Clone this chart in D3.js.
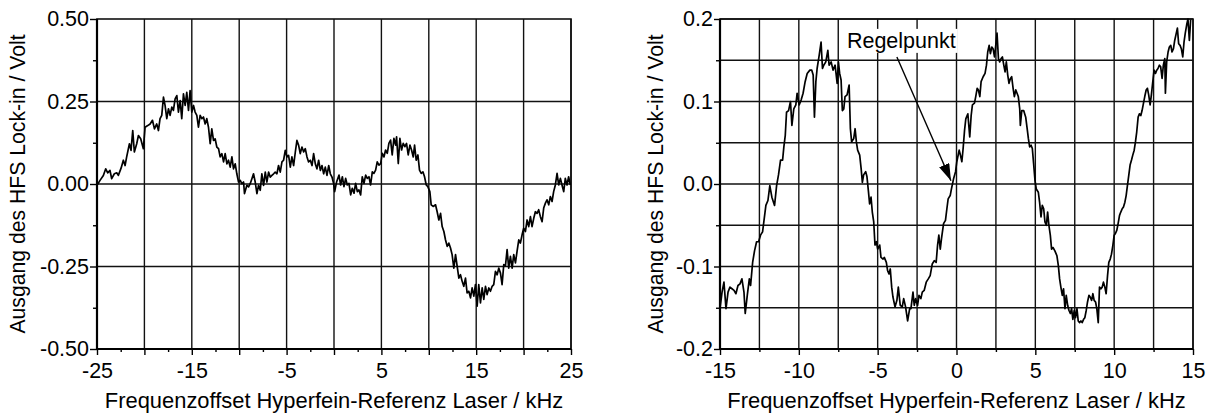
<!DOCTYPE html>
<html><head><meta charset="utf-8">
<script src="https://cdn.jsdelivr.net/npm/d3@7"></script>
<style>
body{margin:0;background:#fff}
svg text{font-family:"Liberation Sans",Arial,Helvetica,sans-serif;fill:#000}
</style>
</head><body>
<svg id="chart" width="1210" height="413"></svg>
<script>
// ---------------- DATA ----------------
const leftFreq = [-25.00,-24.68,-24.33,-24.08,-23.87,-23.63,-23.45,-23.17,-22.92,-22.75,
-22.46,-22.22,-22.04,-21.87,-21.58,-21.41,-21.23,-21.06,-20.81,-20.63,
-20.39,-20.11,-19.93,-19.65,-19.40,-19.15,-18.94,-18.70,-18.52,-18.35,
-18.17,-17.99,-17.82,-17.64,-17.46,-17.29,-17.11,-16.94,-16.76,-16.58,
-16.41,-16.23,-16.06,-15.88,-15.70,-15.53,-15.35,-15.18,-15.00,-14.82,
-14.65,-14.47,-14.30,-14.12,-13.94,-13.77,-13.59,-13.42,-13.24,-13.06,
-12.89,-12.71,-12.54,-12.36,-12.18,-12.01,-11.83,-11.65,-11.48,-11.30,
-11.13,-10.95,-10.77,-10.60,-10.42,-10.25,-10.07,-9.89,-9.72,-9.54,
-9.44,-9.19,-9.01,-8.84,-8.66,-8.49,-8.31,-8.13,-7.96,-7.78,
-7.61,-7.43,-7.25,-7.08,-6.90,-6.73,-6.55,-6.37,-6.20,-6.02,
-5.85,-5.67,-5.49,-5.32,-5.14,-4.96,-4.79,-4.61,-4.44,-4.26,
-4.08,-3.91,-3.73,-3.56,-3.38,-3.20,-3.03,-2.85,-2.68,-2.50,
-2.32,-2.15,-1.97,-1.80,-1.62,-1.44,-1.27,-1.09,-0.92,-0.74,
-0.56,-0.39,-0.21,-0.04,
0.07,0.28,0.53,0.70,0.88,1.05,1.23,1.40,1.58,1.76,
1.93,2.11,2.28,2.46,2.63,2.81,2.98,3.16,3.34,3.51,
3.69,3.86,4.04,4.21,4.39,4.56,4.74,4.92,5.09,5.27,
5.44,5.62,5.79,5.97,6.14,6.32,6.50,6.60,6.78,6.95,
7.13,7.30,7.48,7.65,7.83,8.01,8.18,8.36,8.50,8.67,
8.85,9.02,9.20,9.38,9.55,9.73,9.90,10.11,10.25,10.46,
10.71,10.88,11.06,11.24,11.41,11.59,11.76,11.94,12.11,12.29,
12.46,12.64,12.82,12.99,13.17,13.34,13.52,13.69,13.87,14.04,
14.22,14.40,14.57,14.75,14.92,15.10,15.27,15.45,15.63,15.80,
15.98,16.15,16.33,16.50,16.68,16.85,17.03,17.21,17.38,17.56,
17.73,17.91,18.08,18.26,18.43,18.61,18.79,18.96,19.14,19.31,
19.49,19.66,19.84,20.01,20.19,20.37,20.54,20.72,20.89,21.07,
21.24,21.42,21.59,21.77,21.95,22.12,22.30,22.47,22.65,22.82,
23.00,23.17,23.35,23.53,23.70,23.88,24.05,24.23,24.40,24.58,
24.75,24.93];
const leftVolt = [-0.004,0.011,0.026,0.046,0.034,0.041,0.016,0.031,0.034,0.026,
0.048,0.072,0.056,0.082,0.122,0.102,0.162,0.097,0.122,0.147,
0.137,0.107,0.172,0.177,0.182,0.193,0.167,0.182,0.162,0.198,
0.208,0.263,0.238,0.198,0.228,0.208,0.233,0.223,0.258,0.268,
0.218,0.253,0.198,0.273,0.238,0.278,0.223,0.283,0.218,0.238,
0.218,0.208,0.172,0.208,0.198,0.203,0.182,0.198,0.172,0.122,
0.167,0.132,0.137,0.112,0.107,0.082,0.092,0.067,0.092,0.061,
0.072,0.051,0.082,0.046,0.061,0.031,0.006,0.011,0.001,0.006,
-0.029,-0.004,-0.009,0.001,0.016,0.031,0.006,-0.029,-0.004,-0.019,
0.031,-0.004,0.036,0.006,0.036,0.021,0.026,0.031,0.036,0.031,
0.056,0.036,0.067,0.072,0.102,0.082,0.087,0.051,0.082,0.056,
0.097,0.132,0.117,0.092,0.112,0.097,0.107,0.082,0.067,0.072,
0.056,0.092,0.061,0.046,0.072,0.041,0.056,0.031,0.051,0.026,
0.056,0.031,0.021,0.001,
-0.023,0.007,0.027,-0.003,0.022,-0.008,0.017,-0.003,0.002,-0.033,
-0.013,-0.028,0.002,-0.023,-0.018,-0.033,0.022,0.002,0.027,0.017,
0.022,-0.003,0.037,0.032,0.042,0.067,0.057,0.062,0.093,0.082,
0.103,0.093,0.123,0.133,0.088,0.138,0.118,0.143,0.062,0.138,
0.103,0.123,0.113,0.123,0.088,0.118,0.103,0.082,0.118,0.072,
0.088,0.042,0.032,0.037,0.022,-0.003,-0.008,-0.023,-0.063,-0.068,
-0.063,-0.084,-0.109,-0.089,-0.129,-0.144,-0.169,-0.189,-0.179,-0.194,
-0.214,-0.255,-0.214,-0.249,-0.285,-0.275,-0.295,-0.310,-0.285,-0.330,
-0.325,-0.345,-0.315,-0.340,-0.305,-0.370,-0.305,-0.360,-0.315,-0.350,
-0.310,-0.335,-0.315,-0.325,-0.310,-0.305,-0.265,-0.275,-0.255,-0.270,
-0.305,-0.244,-0.249,-0.199,-0.255,-0.219,-0.255,-0.214,-0.239,-0.204,
-0.169,-0.179,-0.154,-0.134,-0.144,-0.109,-0.129,-0.099,-0.129,-0.104,
-0.084,-0.089,-0.078,-0.099,-0.114,-0.073,-0.058,-0.048,-0.063,-0.038,
-0.053,-0.023,-0.003,0.032,-0.003,0.017,-0.003,-0.023,0.017,-0.003,
0.022,-0.003];

const rightFreq = [-15.00,-14.87,-14.75,-14.62,-14.49,-14.37,-14.24,-14.11,-13.99,-13.86,
-13.73,-13.61,-13.48,-13.40,-13.27,-13.14,-13.06,-12.93,-12.81,-12.68,
-12.55,-12.43,-12.30,-12.22,-12.09,-11.96,-11.84,-11.71,-11.54,-11.41,
-11.29,-11.16,-11.03,-10.95,-10.86,-10.78,-10.65,-10.53,-10.44,-10.32,
-10.19,-10.11,-9.98,-9.85,-9.73,-9.60,-9.47,-9.30,-9.18,-9.09,
-9.01,-8.92,-8.84,-8.71,-8.59,-8.50,-8.42,-8.29,-8.16,-8.08,
-7.95,-7.83,-7.70,-7.57,-7.49,-7.41,-7.32,-7.24,-7.15,-7.07,
-6.94,-6.81,-6.73,-6.65,-6.52,-6.43,-6.35,-6.27,-6.14,-6.05,
-5.97,-5.89,-5.76,-5.68,-5.59,-5.51,-5.42,-5.34,-5.25,-5.17,
-5.08,-5.00,-4.87,-4.79,-4.66,-4.58,-4.45,-4.37,-4.28,-4.20,
-4.11,-4.03,-3.90,-3.78,-3.69,-3.57,-3.44,-3.35,-3.23,-3.10,
-2.97,-2.89,-2.76,-2.68,-2.59,-2.47,-2.38,-2.26,-2.17,-2.05,
-1.92,-1.79,-1.67,-1.54,-1.41,-1.29,-1.20,-1.12,-1.03,-0.95,
-0.82,-0.70,-0.61,-0.53,-0.40,-0.32,-0.19,-0.06,0.02,
0.17,0.25,0.34,0.42,0.51,0.59,0.72,0.84,0.93,1.01,
1.14,1.22,1.31,1.39,1.48,1.56,1.69,1.81,1.90,1.98,
2.07,2.15,2.24,2.32,2.41,2.49,2.57,2.66,2.74,2.83,
2.91,3.00,3.08,3.16,3.25,3.33,3.42,3.50,3.59,3.67,
3.76,3.84,3.92,4.01,4.05,4.14,4.26,4.39,4.47,4.56,
4.64,4.73,4.81,4.89,4.98,5.06,5.19,5.27,5.36,5.44,
5.53,5.61,5.70,5.78,5.86,5.95,6.03,6.12,6.24,6.37,
6.46,6.54,6.62,6.71,6.79,6.88,6.96,7.05,7.13,7.22,
7.30,7.38,7.47,7.55,7.64,7.72,7.81,7.89,7.97,8.06,
8.14,8.23,8.31,8.40,8.48,8.57,8.65,8.73,8.82,8.90,
8.99,9.07,9.16,9.24,9.32,9.41,9.49,9.58,9.66,9.75,
9.83,9.92,10.00,10.08,10.17,10.25,10.34,10.42,10.51,10.59,
10.68,10.76,10.84,10.93,11.01,11.10,11.18,11.27,11.35,11.43,
11.52,11.60,11.69,11.77,11.86,11.94,12.03,12.11,12.19,12.28,
12.36,12.45,12.53,12.62,12.70,12.78,12.87,12.95,13.04,13.12,
13.21,13.25,13.33,13.42,13.50,13.59,13.67,13.76,13.84,13.92,
14.01,14.09,14.18,14.26,14.35,14.43,14.51,14.60,14.68,14.77,
14.85];
const rightVolt = [-0.151,-0.131,-0.119,-0.151,-0.131,-0.125,-0.127,-0.129,-0.133,-0.123,
-0.121,-0.115,-0.131,-0.157,-0.135,-0.115,-0.123,-0.095,-0.081,-0.070,
-0.070,-0.062,-0.058,-0.046,-0.026,-0.020,-0.002,-0.016,-0.026,-0.002,
0.011,0.029,0.029,0.045,0.059,0.087,0.089,0.100,0.071,0.091,
0.096,0.110,0.096,0.102,0.110,0.124,0.134,0.138,0.138,0.132,
0.081,0.124,0.140,0.156,0.172,0.140,0.144,0.148,0.162,0.144,
0.148,0.138,0.144,0.122,0.148,0.134,0.126,0.089,0.091,0.106,
0.108,0.120,0.067,0.051,0.055,0.067,0.051,0.041,0.035,0.019,
0.002,0.011,0.015,0.009,-0.008,-0.024,-0.016,-0.034,-0.046,-0.074,
-0.070,-0.079,-0.074,-0.089,-0.091,-0.089,-0.095,-0.105,-0.109,-0.103,
-0.125,-0.137,-0.149,-0.141,-0.125,-0.147,-0.149,-0.139,-0.149,-0.166,
-0.151,-0.151,-0.131,-0.147,-0.139,-0.147,-0.135,-0.139,-0.131,-0.129,
-0.119,-0.115,-0.111,-0.097,-0.093,-0.095,-0.074,-0.062,-0.079,-0.066,
-0.048,-0.044,-0.030,-0.018,-0.014,-0.006,0.006,0.015,0.027,
0.041,0.035,0.027,0.043,0.065,0.079,0.085,0.057,0.083,0.096,
0.098,0.106,0.116,0.114,0.106,0.124,0.130,0.134,0.144,0.160,
0.168,0.158,0.166,0.164,0.154,0.168,0.183,0.152,0.148,0.152,
0.154,0.144,0.136,0.148,0.132,0.122,0.128,0.130,0.116,0.106,
0.114,0.110,0.106,0.091,0.071,0.089,0.089,0.081,0.069,0.055,
0.045,0.047,0.043,0.025,0.004,-0.006,-0.010,-0.022,-0.040,-0.026,
-0.030,-0.046,-0.050,-0.034,-0.050,-0.062,-0.079,-0.077,-0.081,-0.087,
-0.099,-0.115,-0.125,-0.135,-0.127,-0.151,-0.135,-0.147,-0.153,-0.157,
-0.151,-0.164,-0.153,-0.162,-0.151,-0.166,-0.168,-0.166,-0.168,-0.164,
-0.162,-0.153,-0.143,-0.135,-0.137,-0.141,-0.133,-0.141,-0.143,-0.151,
-0.168,-0.125,-0.127,-0.125,-0.119,-0.125,-0.133,-0.111,-0.095,-0.091,
-0.085,-0.074,-0.062,-0.060,-0.056,-0.048,-0.038,-0.034,-0.030,-0.028,
-0.022,-0.014,-0.002,0.011,0.023,0.029,0.035,0.041,0.051,0.063,
0.081,0.085,0.083,0.089,0.098,0.106,0.114,0.116,0.108,0.096,
0.108,0.124,0.138,0.134,0.138,0.140,0.144,0.142,0.128,0.144,
0.152,0.110,0.148,0.160,0.166,0.168,0.160,0.164,0.174,0.181,
0.189,0.170,0.168,0.164,0.154,0.172,0.183,0.193,0.200,0.174,
0.199];

// tick values and labels
const leftXTicksMajor = [-25,-20,-15,-10,-5,0,5,10,15,20,25];
const leftXTicksMinor = [-22.5,-17.5,-12.5,-7.5,-2.5,2.5,7.5,12.5,17.5,22.5];
const leftXLabels = [-25,-15,-5,5,15,25];
const leftYTicksMajor = [-0.5,-0.25,0,0.25,0.5];
const leftYTicksMinor = [-0.375,-0.125,0.125,0.375];
const leftYLabels = ["-0.50","-0.25","0.00","0.25","0.50"];

const rightXTicksMajor = [-15,-10,-5,0,5,10,15];
const rightXTicksMinor = [-12.5,-7.5,-2.5,2.5,7.5,12.5];
const rightXLabels = [-15,-10,-5,0,5,10,15];
const rightYTicksMajor = [-0.2,-0.1,0,0.1,0.2];
const rightYTicksMinor = [-0.15,-0.05,0.05,0.15];
const rightYLabels = ["-0.2","-0.1","0.0","0.1","0.2"];

const xTitle = "Frequenzoffset Hyperfein-Referenz Laser / kHz";
const yTitle = "Ausgang des HFS Lock-in / Volt";
const annotationText = "Regelpunkt";
const annotationLabelAt = [-6.95, 0.165];
const annotationFrom = [-3.78, 0.154];
const annotationTo = [-0.35, 0.004];

// ---------------- DRAW ----------------
const svg = d3.select("#chart");
const FS = 21.5;
const TFS = 21.9;
const YTFS = 21.2;
const defs = svg.append("defs");
defs.append("marker").attr("id","arrowhead").attr("viewBox","0 0 17 11")
  .attr("refX",17).attr("refY",5.5).attr("markerWidth",17).attr("markerHeight",11)
  .attr("markerUnits","userSpaceOnUse").attr("orient","auto")
  .append("path").attr("d","M0,0 L17,5.5 L0,11 Z").attr("fill","#000");

function panel(cfg, id) {
  const x = d3.scaleLinear().domain(cfg.xDomain).range([cfg.left, cfg.right]);
  const y = d3.scaleLinear().domain(cfg.yDomain).range([cfg.bottom, cfg.top]);
  const g = svg.append("g");

  defs.append("clipPath").attr("id","clip"+id).append("rect")
    .attr("x",cfg.left).attr("y",cfg.top-1).attr("width",cfg.right-cfg.left).attr("height",cfg.bottom-cfg.top+1);

  // grid
  g.selectAll(".vg").data(cfg.xGrid).join("line")
    .attr("x1",d=>x(d)).attr("x2",d=>x(d)).attr("y1",cfg.top).attr("y2",cfg.bottom)
    .attr("stroke","#111").attr("stroke-width",1.4);
  g.selectAll(".hg").data(cfg.yGrid).join("line")
    .attr("x1",cfg.left).attr("x2",cfg.right).attr("y1",d=>y(d)).attr("y2",d=>y(d))
    .attr("stroke","#111").attr("stroke-width",1.4);

  // frame
  g.append("rect").attr("x",cfg.left).attr("y",cfg.top)
    .attr("width",cfg.right-cfg.left).attr("height",cfg.bottom-cfg.top)
    .attr("fill","none").attr("stroke","#111").attr("stroke-width",1.6);

  // axes
  const xa = d3.axisBottom(x).tickValues(cfg.xMajor).tickSize(6).tickSizeOuter(0)
    .tickPadding(8).tickFormat(d => cfg.xLabels.includes(d) ? String(d) : "");
  const xm = d3.axisBottom(x).tickValues(cfg.xMinor).tickSize(cfg.xMinorLen).tickSizeOuter(0).tickFormat("");
  const ya = d3.axisLeft(y).tickValues(cfg.yMajor).tickSize(cfg.yMajorLen).tickSizeOuter(0).tickPadding(1)
    .tickFormat((d,i) => cfg.yLabels[i]);
  const ym = d3.axisLeft(y).tickValues(cfg.yMinor).tickSize(4).tickSizeOuter(0).tickFormat("");
  [[xa,"b"],[xm,"b"],[ya,"l"],[ym,"l"]].forEach(([ax,side]) => {
    const ag = g.append("g").attr("transform", side==="b" ? `translate(0,${cfg.bottom})` : `translate(${cfg.left},0)`).call(ax);
    ag.select(".domain").remove();
    ag.selectAll(".tick line").attr("stroke","#000").attr("stroke-width",1.4);
    ag.selectAll("text").attr("font-size",FS).attr("font-family",'"Liberation Sans",Arial,sans-serif').attr("fill","#000");
  });
  // heavy left and bottom axis lines
  g.append("line").attr("x1",cfg.left).attr("x2",cfg.left).attr("y1",cfg.top).attr("y2",cfg.bottom+1)
    .attr("stroke","#000").attr("stroke-width",2.2);
  g.append("line").attr("x1",cfg.left-1).attr("x2",cfg.right).attr("y1",cfg.bottom).attr("y2",cfg.bottom)
    .attr("stroke","#000").attr("stroke-width",2.2);

  // curve
  const pts = d3.zip(cfg.freq, cfg.volt);
  g.append("path").datum(pts).attr("clip-path",`url(#clip${id})`)
    .attr("d", d3.line().x(d=>x(d[0])).y(d=>y(d[1])))
    .attr("fill","none").attr("stroke","#000").attr("stroke-width",1.7).attr("stroke-linejoin","round");

  // titles
  g.append("text").attr("x",(cfg.left+cfg.right)/2).attr("y",408)
    .attr("text-anchor","middle").attr("font-size",TFS).text(xTitle);
  g.append("text").attr("transform",`translate(${cfg.ytitleX},${(cfg.top+cfg.bottom)/2}) rotate(-90)`)
    .attr("text-anchor","middle").attr("font-size",YTFS).text(yTitle);
  return {x,y,g};
}

panel({xDomain:[-25,25], yDomain:[-0.5,0.5], left:97, right:571, top:19, bottom:349,
  xGrid:leftXTicksMajor, yGrid:[-0.25,0,0.25], xMajor:leftXTicksMajor, xMinor:leftXTicksMinor, xMinorLen:3,
  xLabels:leftXLabels, yMajor:leftYTicksMajor, yMinor:leftYTicksMinor, yLabels:leftYLabels, yMajorLen:7,
  freq:leftFreq, volt:leftVolt, ytitleX:25}, "L");

const R = panel({xDomain:[-15,15], yDomain:[-0.2,0.2], left:720, right:1193, top:19, bottom:349,
  xGrid:rightXTicksMajor.concat(rightXTicksMinor), yGrid:rightYTicksMajor.concat(rightYTicksMinor),
  xMajor:rightXTicksMajor, xMinor:rightXTicksMinor, xMinorLen:3,
  xLabels:rightXLabels, yMajor:rightYTicksMajor, yMinor:rightYTicksMinor, yLabels:rightYLabels, yMajorLen:6,
  freq:rightFreq, volt:rightVolt, ytitleX:663}, "R");

// annotation
const annG = R.g.append("g");
const boxRect = annG.append("rect").attr("fill","#fff");
const lbl = annG.append("text").attr("x",R.x(annotationLabelAt[0])).attr("y",R.y(annotationLabelAt[1]))
  .attr("font-size",FS).text(annotationText);
const bb = lbl.node().getBBox();
boxRect.attr("x",bb.x-3).attr("y",bb.y).attr("width",bb.width+5).attr("height",bb.height);
annG.append("line").attr("x1",R.x(annotationFrom[0])).attr("y1",R.y(annotationFrom[1]))
  .attr("x2",R.x(annotationTo[0])).attr("y2",R.y(annotationTo[1]))
  .attr("stroke","#000").attr("stroke-width",1.4).attr("marker-end","url(#arrowhead)");
</script>
</body></html>
